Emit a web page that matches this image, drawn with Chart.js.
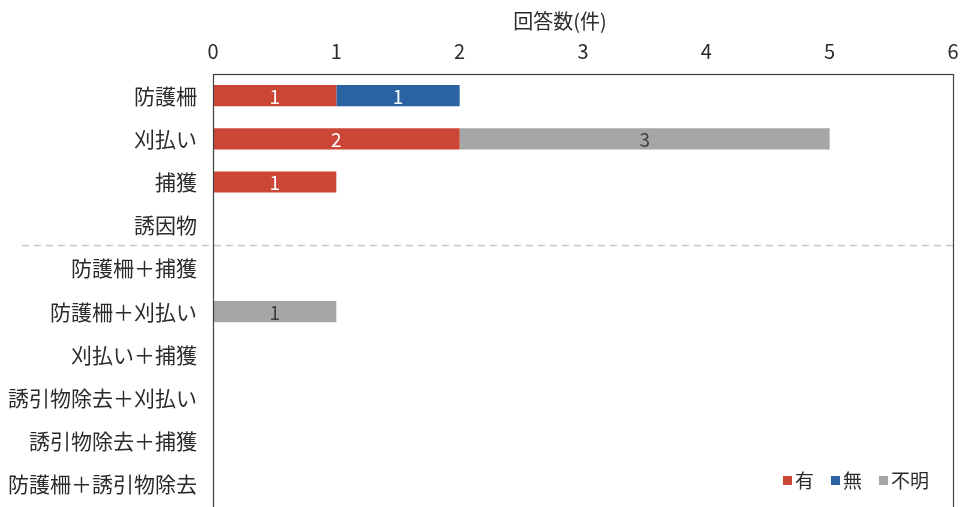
<!DOCTYPE html>
<html>
<head>
<meta charset="utf-8">
<script src="https://cdn.jsdelivr.net/npm/chart.js@4/dist/chart.umd.min.js"></script>
<style>
  html, body { margin: 0; padding: 0; background: #fff; }
  #wrap { width: 962px; height: 507px; }
</style>
</head>
<body>
<div id="wrap"><canvas id="responseChart"></canvas></div>
<script>
const categories = ["防護柵", "刈払い", "捕獲", "誘因物", "防護柵＋捕獲", "防護柵＋刈払い", "刈払い＋捕獲", "誘引物除去＋刈払い", "誘引物除去＋捕獲", "防護柵＋誘引物除去"];
const seriesNames = ["有", "無", "不明"];
const yesCounts = [1, 2, 1, 0, 0, 0, 0, 0, 0, 0];
const noCounts = [1, 0, 0, 0, 0, 0, 0, 0, 0, 0];
const unknownCounts = [0, 3, 0, 0, 0, 1, 0, 0, 0, 0];
const xTicks = [0, 1, 2, 3, 4, 5, 6];
const axisTitle = "回答数(件)";

const colors = ["#CC4636", "#2B62A3", "#A6A6A6"];
const labelColors = ["#ffffff", "#ffffff", "#404040"];
const FONT = "'Noto Sans CJK JP', 'Noto Sans', sans-serif";
const TEXT = "#2b2b2b";

// axis title, bar value labels, frame, dashed separator and in-plot legend
const extras = {
    id: "extras",
    afterDatasetsDraw(chart) {
        const ctx = chart.ctx;
        const area = chart.chartArea;
        const y = chart.scales.y;
        ctx.save();

        // axis title
        ctx.font = "20px " + FONT;
        ctx.fillStyle = TEXT;
        ctx.textAlign = "center";
        ctx.textBaseline = "middle";
        ctx.fillText(axisTitle, 560, 21);

        // value labels
        ctx.font = "19px " + FONT;
        chart.data.datasets.forEach((ds, i) => {
            chart.getDatasetMeta(i).data.forEach((bar, j) => {
                if (!ds.data[j]) return;
                ctx.fillStyle = labelColors[i];
                ctx.fillText(String(ds.data[j]), (bar.x + bar.base) / 2, bar.y + 1);
            });
        });

        // separator between single and combined measures
        const sepY = Math.round((y.getPixelForValue(3) + y.getPixelForValue(4)) / 2) - 2 + 0.5;
        ctx.strokeStyle = "#C8C8C8";
        ctx.lineWidth = 1.5;
        ctx.setLineDash([7, 5]);
        ctx.beginPath();
        ctx.moveTo(22, sepY);
        ctx.lineTo(area.right, sepY);
        ctx.stroke();
        ctx.setLineDash([]);

        // frame
        ctx.strokeStyle = "#404040";
        ctx.lineWidth = 1.2;
        ctx.strokeRect(area.left + 0.5, area.top + 0.5, area.right - area.left, area.bottom - area.top + 4);

        // legend
        let lx = 783;
        const ly = 480;
        ctx.font = "19px " + FONT;
        ctx.textAlign = "left";
        seriesNames.forEach((name, i) => {
            ctx.fillStyle = colors[i];
            ctx.fillRect(lx, ly - 4, 9, 9);
            ctx.fillStyle = TEXT;
            ctx.fillText(name, lx + 12, ly + 1);
            lx += 12 + ctx.measureText(name).width + 17;
        });
        ctx.restore();
    }
};

const ctx = document.getElementById("responseChart").getContext("2d");
new Chart(ctx, {
    type: "bar",
    data: {
        labels: categories,
        datasets: [yesCounts, noCounts, unknownCounts].map((vals, i) => ({
            label: seriesNames[i],
            data: vals,
            backgroundColor: colors[i],
            borderWidth: 0,
            categoryPercentage: 1,
            barPercentage: 0.49
        }))
    },
    options: {
        indexAxis: "y",
        responsive: true,
        maintainAspectRatio: false,
        animation: false,
        layout: { padding: { left: 0, right: 9, top: 0, bottom: 1 } },
        plugins: {
            legend: { display: false },
            tooltip: { enabled: false }
        },
        scales: {
            x: {
                position: "top",
                stacked: true,
                min: 0,
                max: 6,
                afterBuildTicks: scale => { scale.ticks = xTicks.map(v => ({ value: v })); },
                grid: { display: false, drawTicks: false },
                border: { display: false },
                ticks: {
                    color: TEXT,
                    padding: 11,
                    font: { family: FONT, size: 20 }
                },
                afterFit: scale => { scale.height = 74; scale.paddingLeft = 0; scale.paddingRight = 0; }
            },
            y: {
                stacked: true,
                grid: { display: false, drawTicks: false },
                border: { display: false },
                ticks: {
                    color: TEXT,
                    padding: 16,
                    font: { family: FONT, size: 21 }
                },
                afterFit: scale => { scale.width = 213; scale.paddingTop = 0; scale.paddingBottom = 0; }
            }
        }
    },
    plugins: [extras]
});
</script>
</body>
</html>
